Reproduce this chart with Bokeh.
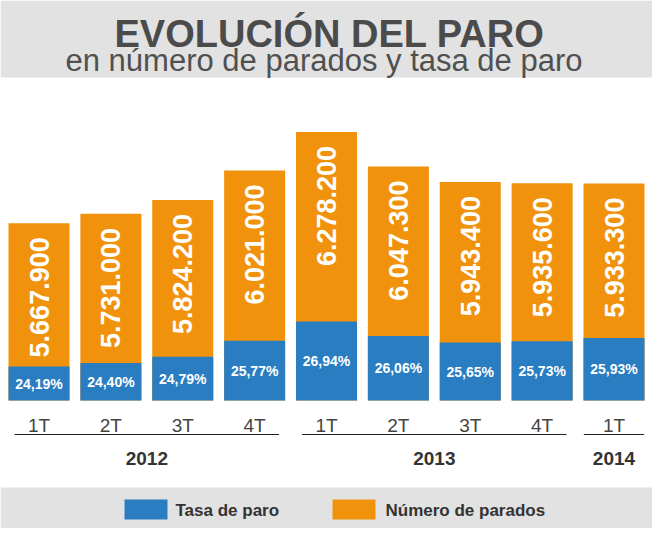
from bokeh.plotting import figure
from bokeh.models import Range1d, ColumnDataSource
from bokeh.core.properties import value
from bokeh.embed import file_html
from bokeh.resources import INLINE
import math

# ---------------- data ----------------
quarters = ["1T", "2T", "3T", "4T", "1T", "2T", "3T", "4T", "1T"]
years = ["2012", "2012", "2012", "2012", "2013", "2013", "2013", "2013", "2014"]
parados = [5667900, 5731000, 5824200, 6021000, 6278200, 6047300, 5943400, 5935600, 5933300]
tasa = [24.19, 24.40, 24.79, 25.77, 26.94, 26.06, 25.65, 25.73, 25.93]

title_text = "EVOLUCIÓN DEL PARO"
subtitle_text = "en número de parados y tasa de paro"
legend_labels = ["Tasa de paro", "Número de parados"]

# ---------------- styling / layout ----------------
W, H = 652, 528
BLUE = "#2a7dc1"
ORANGE = "#f1920d"
BAND = "#e2e2e2"
FONT = value("Liberation Sans")

base_py = 400.0            # screen y (from top) of the bars' base
px_per_person = 0.0001496  # scale of the "parados" bars
px_per_point = 16.4        # scale of the "tasa" bars
parados_base = 4483400
tasa_base = 22.12

step = 71.875
first_center = 38.5
x_start = -first_center / step
x_end = x_start + W / step

p = figure(width=W, height=H, output_backend="svg", toolbar_location=None,
           x_axis_location=None, y_axis_location=None, min_border=0,
           x_range=Range1d(x_start, x_end),
           y_range=Range1d(parados_base - (H - base_py) / px_per_person,
                           parados_base + base_py / px_per_person))
p.extra_y_ranges = {
    "tasa": Range1d(tasa_base - (H - base_py) / px_per_point,
                    tasa_base + base_py / px_per_point),
    "px": Range1d(H, 0),
}
p.extra_x_ranges = {"px": Range1d(0, W)}
p.outline_line_color = None
p.background_fill_color = "white"
p.border_fill_color = "white"
p.xgrid.visible = False
p.ygrid.visible = False
p.grid.grid_line_color = None

idx = list(range(len(quarters)))
src = ColumnDataSource(dict(
    x=idx,
    parados=parados,
    tasa=tasa,
    pbase=[parados_base] * len(idx),
    tbase=[tasa_base] * len(idx),
    tmid=[(tasa_base + t) / 2 for t in tasa],
    plabel=[f"{v:,}".replace(",", ".") for v in parados],
    tlabel=[f"{v:.2f}".replace(".", ",") + "%" for v in tasa],
    quarter=quarters,
))

# background bands (title band and legend band)
p.quad(left=[0, 0], right=[W, W], top=[0, 487], bottom=[77, H],
       x_range_name="px", y_range_name="px", fill_color=BAND, line_color=None)

# bars
p.vbar(x="x", width=0.849, bottom="pbase", top="parados", source=src,
       fill_color=ORANGE, line_color=None)
p.vbar(x="x", width=0.849, bottom="tbase", top="tasa", source=src,
       fill_color=BLUE, line_color=None, y_range_name="tasa")

# value labels
p.text(x="x", y="parados", text="plabel", source=src, angle=math.pi / 2,
       text_align="right", text_baseline="middle", y_offset=14,
       text_color="white", text_font=FONT, text_font_style="bold",
       text_font_size="27px")
p.text(x="x", y="tmid", text="tlabel", source=src, y_range_name="tasa",
       text_align="center", text_baseline="middle",
       text_color="white", text_font=FONT, text_font_style="bold",
       text_font_size="14px")

# quarter labels
p.text(x="x", y=425, text="quarter", source=src, y_range_name="px",
       text_align="center", text_baseline="alphabetic", text_color="#444444",
       text_font=FONT, text_font_size="19px")

# year groups
groups = []
for i, y in enumerate(years):
    if not groups or groups[-1][0] != y:
        groups.append([y, i, i])
    else:
        groups[-1][2] = i
gx0, gx1, gxm, gy = [], [], [], []
for y, a, b in groups:
    pad = 0.34 if b > a else 0.42
    gx0.append(a - pad)
    gx1.append(b + pad)
    gxm.append((a + b) / 2)
    gy.append(y)
p.segment(x0=gx0, x1=gx1, y0=[434] * len(gx0), y1=[434] * len(gx0),
          y_range_name="px", line_color="#222222", line_width=1)
p.text(x=gxm, y=[458] * len(gxm), text=gy, y_range_name="px",
       text_align="center", text_baseline="alphabetic", text_color="#333333",
       text_font=FONT, text_font_style="bold", text_font_size="19px")

# title and subtitle
p.text(x=[329], y=[33], text=[title_text], x_range_name="px", y_range_name="px",
       text_align="center", text_baseline="alphabetic", text_color="#4b4b4b",
       text_font=FONT, text_font_style="bold", text_font_size="38px")
p.text(x=[323.5], y=[60], text=[subtitle_text], x_range_name="px", y_range_name="px",
       text_align="center", text_baseline="alphabetic", text_color="#505050",
       text_font=FONT, text_font_size="31px")

# legend
p.quad(left=[124, 332], right=[167, 375], top=[499, 499], bottom=[519, 519],
       x_range_name="px", y_range_name="px", fill_color=[BLUE, ORANGE], line_color=None)
p.text(x=[175, 385], y=[510, 510], text=legend_labels, x_range_name="px", y_range_name="px",
       text_align="left", text_baseline="middle", text_color="#333333",
       text_font=FONT, text_font_style="bold", text_font_size="17px")

open("out.html", "w").write(file_html(p, INLINE))
